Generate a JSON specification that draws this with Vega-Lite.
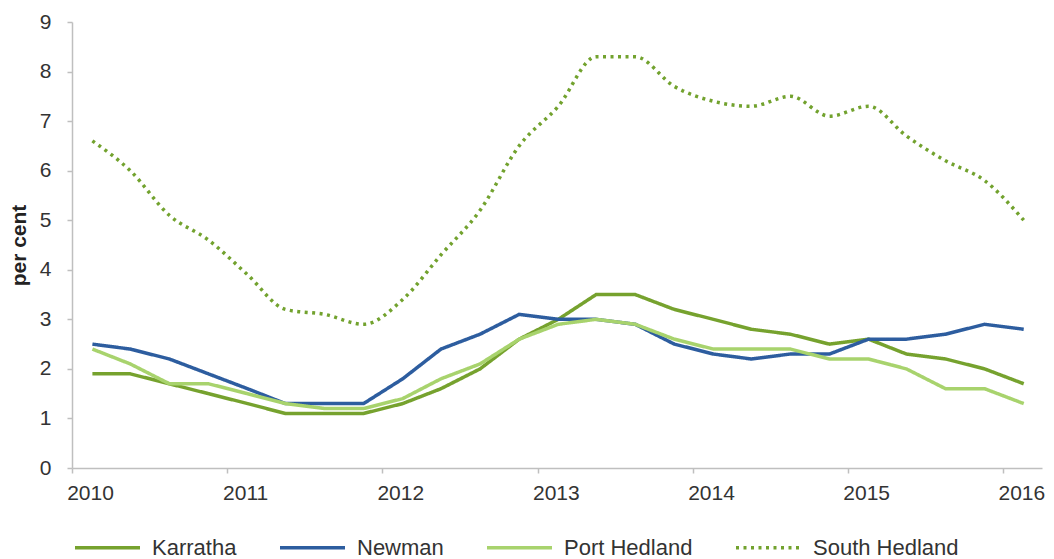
{
  "$schema": "https://vega.github.io/schema/vega-lite/v6.json",
  "width": 970,
  "height": 446,
  "autosize": "none",
  "padding": {"left": 72, "top": 22, "right": 12, "bottom": 91},
  "background": "white",
  "config": {
    "font": "Liberation Sans",
    "view": {"stroke": null},
    "legend": {
      "orient": "none",
      "legendX": 1,
      "legendY": 491,
      "direction": "horizontal",
      "symbolType": "stroke",
      "symbolSize": 4225,
      "symbolStrokeWidth": 3.5,
      "labelFontSize": 22,
      "labelColor": "#333333",
      "columnPadding": 36,
      "labelOffset": 10,
      "title": null
    }
  },
  "data": {
    "values": [
      {"date": "2010-02-18", "series": "Karratha", "value": 1.9},
      {"date": "2010-05-18", "series": "Karratha", "value": 1.9},
      {"date": "2010-08-18", "series": "Karratha", "value": 1.7},
      {"date": "2010-11-18", "series": "Karratha", "value": 1.5},
      {"date": "2011-02-18", "series": "Karratha", "value": 1.3},
      {"date": "2011-05-18", "series": "Karratha", "value": 1.1},
      {"date": "2011-08-18", "series": "Karratha", "value": 1.1},
      {"date": "2011-11-18", "series": "Karratha", "value": 1.1},
      {"date": "2012-02-18", "series": "Karratha", "value": 1.3},
      {"date": "2012-05-18", "series": "Karratha", "value": 1.6},
      {"date": "2012-08-18", "series": "Karratha", "value": 2.0},
      {"date": "2012-11-18", "series": "Karratha", "value": 2.6},
      {"date": "2013-02-18", "series": "Karratha", "value": 3.0},
      {"date": "2013-05-18", "series": "Karratha", "value": 3.5},
      {"date": "2013-08-18", "series": "Karratha", "value": 3.5},
      {"date": "2013-11-18", "series": "Karratha", "value": 3.2},
      {"date": "2014-02-18", "series": "Karratha", "value": 3.0},
      {"date": "2014-05-18", "series": "Karratha", "value": 2.8},
      {"date": "2014-08-18", "series": "Karratha", "value": 2.7},
      {"date": "2014-11-18", "series": "Karratha", "value": 2.5},
      {"date": "2015-02-18", "series": "Karratha", "value": 2.6},
      {"date": "2015-05-18", "series": "Karratha", "value": 2.3},
      {"date": "2015-08-18", "series": "Karratha", "value": 2.2},
      {"date": "2015-11-18", "series": "Karratha", "value": 2.0},
      {"date": "2016-02-18", "series": "Karratha", "value": 1.7},
      {"date": "2010-02-18", "series": "Newman", "value": 2.5},
      {"date": "2010-05-18", "series": "Newman", "value": 2.4},
      {"date": "2010-08-18", "series": "Newman", "value": 2.2},
      {"date": "2010-11-18", "series": "Newman", "value": 1.9},
      {"date": "2011-02-18", "series": "Newman", "value": 1.6},
      {"date": "2011-05-18", "series": "Newman", "value": 1.3},
      {"date": "2011-08-18", "series": "Newman", "value": 1.3},
      {"date": "2011-11-18", "series": "Newman", "value": 1.3},
      {"date": "2012-02-18", "series": "Newman", "value": 1.8},
      {"date": "2012-05-18", "series": "Newman", "value": 2.4},
      {"date": "2012-08-18", "series": "Newman", "value": 2.7},
      {"date": "2012-11-18", "series": "Newman", "value": 3.1},
      {"date": "2013-02-18", "series": "Newman", "value": 3.0},
      {"date": "2013-05-18", "series": "Newman", "value": 3.0},
      {"date": "2013-08-18", "series": "Newman", "value": 2.9},
      {"date": "2013-11-18", "series": "Newman", "value": 2.5},
      {"date": "2014-02-18", "series": "Newman", "value": 2.3},
      {"date": "2014-05-18", "series": "Newman", "value": 2.2},
      {"date": "2014-08-18", "series": "Newman", "value": 2.3},
      {"date": "2014-11-18", "series": "Newman", "value": 2.3},
      {"date": "2015-02-18", "series": "Newman", "value": 2.6},
      {"date": "2015-05-18", "series": "Newman", "value": 2.6},
      {"date": "2015-08-18", "series": "Newman", "value": 2.7},
      {"date": "2015-11-18", "series": "Newman", "value": 2.9},
      {"date": "2016-02-18", "series": "Newman", "value": 2.8},
      {"date": "2010-02-18", "series": "Port Hedland", "value": 2.4},
      {"date": "2010-05-18", "series": "Port Hedland", "value": 2.1},
      {"date": "2010-08-18", "series": "Port Hedland", "value": 1.7},
      {"date": "2010-11-18", "series": "Port Hedland", "value": 1.7},
      {"date": "2011-02-18", "series": "Port Hedland", "value": 1.5},
      {"date": "2011-05-18", "series": "Port Hedland", "value": 1.3},
      {"date": "2011-08-18", "series": "Port Hedland", "value": 1.2},
      {"date": "2011-11-18", "series": "Port Hedland", "value": 1.2},
      {"date": "2012-02-18", "series": "Port Hedland", "value": 1.4},
      {"date": "2012-05-18", "series": "Port Hedland", "value": 1.8},
      {"date": "2012-08-18", "series": "Port Hedland", "value": 2.1},
      {"date": "2012-11-18", "series": "Port Hedland", "value": 2.6},
      {"date": "2013-02-18", "series": "Port Hedland", "value": 2.9},
      {"date": "2013-05-18", "series": "Port Hedland", "value": 3.0},
      {"date": "2013-08-18", "series": "Port Hedland", "value": 2.9},
      {"date": "2013-11-18", "series": "Port Hedland", "value": 2.6},
      {"date": "2014-02-18", "series": "Port Hedland", "value": 2.4},
      {"date": "2014-05-18", "series": "Port Hedland", "value": 2.4},
      {"date": "2014-08-18", "series": "Port Hedland", "value": 2.4},
      {"date": "2014-11-18", "series": "Port Hedland", "value": 2.2},
      {"date": "2015-02-18", "series": "Port Hedland", "value": 2.2},
      {"date": "2015-05-18", "series": "Port Hedland", "value": 2.0},
      {"date": "2015-08-18", "series": "Port Hedland", "value": 1.6},
      {"date": "2015-11-18", "series": "Port Hedland", "value": 1.6},
      {"date": "2016-02-18", "series": "Port Hedland", "value": 1.3},
      {"date": "2010-02-18", "series": "South Hedland", "value": 6.6},
      {"date": "2010-05-18", "series": "South Hedland", "value": 6.0},
      {"date": "2010-08-18", "series": "South Hedland", "value": 5.1},
      {"date": "2010-11-18", "series": "South Hedland", "value": 4.6},
      {"date": "2011-02-18", "series": "South Hedland", "value": 3.9},
      {"date": "2011-05-18", "series": "South Hedland", "value": 3.2},
      {"date": "2011-08-18", "series": "South Hedland", "value": 3.1},
      {"date": "2011-11-18", "series": "South Hedland", "value": 2.9},
      {"date": "2012-02-18", "series": "South Hedland", "value": 3.4},
      {"date": "2012-05-18", "series": "South Hedland", "value": 4.3},
      {"date": "2012-08-18", "series": "South Hedland", "value": 5.2},
      {"date": "2012-11-18", "series": "South Hedland", "value": 6.5},
      {"date": "2013-02-18", "series": "South Hedland", "value": 7.3},
      {"date": "2013-05-18", "series": "South Hedland", "value": 8.3},
      {"date": "2013-08-18", "series": "South Hedland", "value": 8.3},
      {"date": "2013-11-18", "series": "South Hedland", "value": 7.7},
      {"date": "2014-02-18", "series": "South Hedland", "value": 7.4},
      {"date": "2014-05-18", "series": "South Hedland", "value": 7.3},
      {"date": "2014-08-18", "series": "South Hedland", "value": 7.5},
      {"date": "2014-11-18", "series": "South Hedland", "value": 7.1},
      {"date": "2015-02-18", "series": "South Hedland", "value": 7.3},
      {"date": "2015-05-18", "series": "South Hedland", "value": 6.7},
      {"date": "2015-08-18", "series": "South Hedland", "value": 6.2},
      {"date": "2015-11-18", "series": "South Hedland", "value": 5.8},
      {"date": "2016-02-18", "series": "South Hedland", "value": 5.0}
    ]
  },
  "encoding": {
    "x": {
      "field": "date",
      "type": "temporal",
      "scale": {"domain": ["2010-01-01", "2016-04-01"]},
      "axis": {
        "title": null,
        "grid": false,
        "format": "%Y",
        "tickCount": {"interval": "year", "step": 1},
        "domainColor": "#bfbfbf",
        "domainWidth": 1.5,
        "tickColor": "#bfbfbf",
        "tickWidth": 1.5,
        "tickSize": 5,
        "labelFontSize": 21,
        "labelColor": "#333333",
        "labelAlign": "center",
        "labelOffset": 18,
        "labelPadding": 9,
        "labelFlush": false,
        "labelOverlap": false
      }
    },
    "y": {
      "field": "value",
      "type": "quantitative",
      "scale": {"domain": [0, 9], "nice": false},
      "axis": {
        "title": "per cent",
        "titleFontSize": 21,
        "titleFontWeight": "bold",
        "titleColor": "#222222",
        "titlePadding": 10,
        "values": [0, 1, 2, 3, 4, 5, 6, 7, 8, 9],
        "grid": false,
        "domainColor": "#bfbfbf",
        "domainWidth": 1.5,
        "tickColor": "#bfbfbf",
        "tickWidth": 1.5,
        "tickSize": 5,
        "labelFontSize": 21,
        "labelColor": "#333333",
        "labelPadding": 16
      }
    },
    "color": {
      "field": "series",
      "type": "nominal",
      "scale": {
        "domain": ["Karratha", "Newman", "Port Hedland", "South Hedland"],
        "range": ["#76a22e", "#2d5d9f", "#a8d36d", "#72a22e"]
      },
      "legend": {"title": null}
    },
    "strokeDash": {
      "field": "series",
      "type": "nominal",
      "scale": {
        "domain": ["Karratha", "Newman", "Port Hedland", "South Hedland"],
        "range": [[1, 0], [1, 0], [1, 0], [3, 4.5]]
      },
      "legend": {"title": null}
    }
  },
  "layer": [
    {
      "transform": [{"filter": "datum.series !== 'South Hedland'"}],
      "mark": {"type": "line", "strokeWidth": 3.5}
    },
    {
      "transform": [{"filter": "datum.series === 'South Hedland'"}],
      "mark": {"type": "line", "strokeWidth": 3.5, "interpolate": "monotone"}
    }
  ]
}
